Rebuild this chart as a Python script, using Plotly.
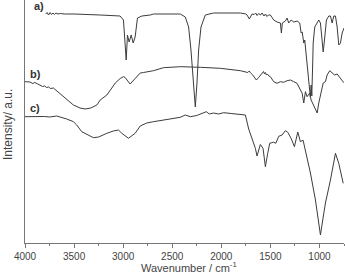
import plotly.graph_objects as go

# ---- data (wavenumber in cm^-1, intensity in a.u.) ----
a_wn = [3790, 3775, 3760, 3745, 3730, 3715, 3700, 3685, 3665, 3640, 3600, 3500, 3234, 3031,
        2997, 2980, 2969, 2956, 2939, 2918, 2898, 2878, 2854, 2809, 2750, 2724, 2690, 2418,
        2367, 2333, 2309, 2282, 2265, 2248, 2231, 2207, 2163, 2078, 1806, 1750, 1738, 1714,
        1687, 1665, 1650, 1635, 1620, 1600, 1585, 1565, 1550, 1535, 1520, 1500, 1466, 1432,
        1398, 1388, 1378, 1347, 1330, 1313, 1289, 1262, 1228, 1201, 1187, 1176, 1160, 1150,
        1133, 1115, 1100, 1093, 1085, 1078, 1068, 1064, 1048, 1023, 1007, 990, 972, 962,
        949, 929, 905, 888, 871, 854, 837, 820, 803, 786, 769, 750]
a_y = [229, 230.5, 228, 230.5, 228.5, 230, 228.5, 230, 229, 229.5, 229, 229, 228, 227,
       223, 193, 183, 208, 201, 208, 200, 206, 225, 227, 227.5, 228, 229, 229,
       226, 216, 193, 160, 136, 160, 193, 216, 228, 230, 230, 229, 228, 224,
       229, 228.5, 230, 227.5, 229.5, 228, 230, 227, 229, 226.5, 228, 228, 223, 221,
       220, 210, 220, 222, 225, 220, 223, 221, 222, 220, 210, 211, 200, 203,
       186, 173, 151, 146, 158, 147, 183, 200, 216, 221, 223, 220, 200, 191,
       203, 223, 227, 227, 220, 227, 227, 216, 198, 200, 210, 215]

b_wn = [4000, 3950, 3920, 3900, 3870, 3847, 3820, 3800, 3780, 3760, 3740, 3711, 3609, 3507,
        3440, 3388, 3330, 3268, 3234, 3166, 3080, 3030, 2997, 2980, 2929, 2878, 2826, 2793,
        2691, 2589, 2418, 2214, 2010, 1806, 1750, 1730, 1715, 1704, 1680, 1660, 1643, 1620,
        1600, 1585, 1570, 1560, 1551, 1540, 1530, 1515, 1500, 1466, 1432, 1398, 1364, 1330,
        1296, 1262, 1228, 1194, 1177, 1160, 1143, 1126, 1099, 1085, 1058, 1023, 1007, 990,
        962, 939, 922, 895, 871, 847, 820, 786, 752]
b_y = [161.3, 161, 159.5, 160.5, 159, 158, 156.5, 157, 155.5, 156, 154.5, 155, 146.3, 138,
       135, 134, 135, 138, 143, 148, 160, 164.5, 166.3, 165.5, 159, 165, 170, 170.5,
       172.3, 175.3, 176.3, 175.7, 174.7, 172.3, 171.5, 170.5, 172, 170.3, 168, 164.5, 163, 165.5,
       168, 169.7, 171.5, 169, 170.5, 168, 169, 167, 166.3, 161.3, 159.7, 161.3, 160.7, 162.3,
       163, 161.3, 159.7, 153, 150, 140, 151.3, 146.3, 150, 143, 138, 130, 140, 148,
       160, 161.3, 168, 172.3, 170, 168, 169, 165, 160.3]

c_wn = [4000, 3900, 3850, 3800, 3750, 3677, 3574, 3507, 3473, 3422, 3303, 3250, 3166, 3100,
        3048, 3013, 2946, 2878, 2826, 2760, 2691, 2520, 2418, 2367, 2340, 2316, 2250, 2180,
        2153, 2122, 2080, 2027, 1976, 1900, 1840, 1755, 1721, 1687, 1653, 1636, 1619, 1602,
        1575, 1551, 1527, 1507, 1466, 1445, 1415, 1381, 1347, 1323, 1289, 1255, 1221, 1194,
        1167, 1143, 1092, 1041, 990, 962, 939, 888, 837, 803, 758]
c_y = [126.3, 126.5, 126, 126.5, 126, 127, 124, 121.3, 118, 111.3, 105.3, 106, 109.7, 112,
       113, 109.7, 104.7, 109.7, 117, 120, 121.3, 124, 125.7, 128, 127.5, 126.3, 127.5, 129.7,
       131.3, 129, 130, 129, 130.3, 129.5, 129, 128, 114, 104, 94.7, 87, 93, 98.5,
       94.7, 76.3, 89.7, 99.7, 100.8, 99.7, 106.7, 108, 112.3, 110.7, 104.7, 96.3, 111, 101.3,
       102.8, 93, 70, 43, 8, 26, 40, 63, 89.7, 79.5, 59.7]

series = [("a)", a_wn, a_y, 3929, 237), ("b)", b_wn, b_y, 3969, 169), ("c)", c_wn, c_y, 3969, 135)]
x_ticks = [4000, 3500, 3000, 2500, 2000, 1500, 1000]

LINE = "#3c3c3c"
AX = "#777777"
TXT = "#444444"
FONT = "Liberation Sans, Arial, sans-serif"

fig = go.Figure()
for name, wn, y, lx, ly in series:
    fig.add_trace(go.Scatter(x=wn, y=y, mode="lines", name=name,
                             line=dict(color=LINE, width=1), showlegend=False))
    fig.add_annotation(x=lx, y=ly, text="<b>" + name + "</b>", showarrow=False,
                       xanchor="left", yanchor="middle",
                       font=dict(family=FONT, size=11, color="#333333"))

fig.add_annotation(xref="paper", yref="paper", x=-0.053, y=0.486, text="Intensity/ a.u.",
                   textangle=-90, showarrow=False, xanchor="center", yanchor="middle",
                   font=dict(family=FONT, size=12, color=TXT))
fig.add_annotation(xref="paper", yref="paper", x=0.514, y=-0.1,
                   text="Wavenumber / cm<sup>-1</sup>", showarrow=False,
                   xanchor="center", yanchor="middle",
                   font=dict(family=FONT, size=11, color=TXT))

fig.update_layout(
    width=345, height=274,
    margin=dict(l=25, r=1, t=0, b=31),
    paper_bgcolor="white", plot_bgcolor="white",
    font=dict(family=FONT, size=10, color=TXT),
)
fig.update_xaxes(range=[4000, 750], tickvals=x_ticks, ticktext=[str(v) for v in x_ticks],
                 ticks="outside", ticklen=4, tickcolor=AX, showline=True, linecolor=AX,
                 linewidth=1, showgrid=False, zeroline=False,
                 minor=dict(dtick=250, tick0=0, ticks="outside", ticklen=2, tickcolor=AX),
                 tickfont=dict(family=FONT, size=10, color=TXT))
fig.update_yaxes(range=[0, 243], showticklabels=False, ticks="", showline=True,
                 linecolor=AX, linewidth=1, showgrid=False, zeroline=False)

fig.write_html("out.html")
